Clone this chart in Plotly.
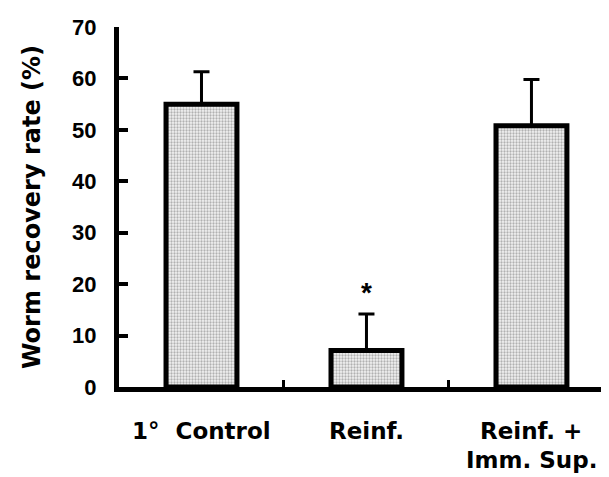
import plotly.graph_objects as go

categories = ["1°\u00a0\u00a0Control", "Reinf.", "Reinf. +\nImm. Sup."]
values = [55.0, 7.1, 50.8]
errors = [6.3, 7.1, 9.0]
significance = ["", "*", ""]
y_ticks = [0, 10, 20, 30, 40, 50, 60, 70]

FONT = "DejaVu Sans, Verdana, sans-serif"
TICKFONT = "Liberation Sans, Arial, Helvetica, sans-serif"
x_idx = list(range(len(categories)))

fig = go.Figure()
fig.add_trace(go.Bar(
    x=x_idx, y=values, width=0.43,
    marker=dict(color="#eeeeee",
                line=dict(color="black", width=5),
                pattern=dict(shape=".", fgcolor="#6f6f6f", bgcolor="#f2f2f2", size=3, solidity=0.45)),
    error_y=dict(type="data", array=errors, arrayminus=[0] * len(errors), symmetric=False,
                 color="black", thickness=3, width=8),
    showlegend=False,
))

annotations = []
for i, cat in enumerate(categories):
    for j, line in enumerate(cat.split("\n")):
        annotations.append(dict(
            x=i, y=0, xref="x", yref="y", text=line, showarrow=False,
            xanchor="center", yanchor="top", yshift=-29 - 28.5 * j,
            font=dict(family=FONT, size=23, color="black", weight="bold")))
    if significance[i]:
        annotations.append(dict(
            x=i, y=values[i] + errors[i], xref="x", yref="y", text=significance[i],
            showarrow=False, xanchor="center", yanchor="bottom", yshift=4,
            font=dict(family=TICKFONT, size=28, color="black", weight="bold")))

# The page body adds an 8px margin, so the figure is sized to fit the 609x477 window.
fig.update_layout(
    width=601, height=469,
    margin=dict(l=111, r=0, t=19, b=90, autoexpand=False),
    paper_bgcolor="white", plot_bgcolor="white",
    font=dict(family=FONT, color="black"),
    xaxis=dict(range=[-0.5, 2.47], tickmode="array", tickvals=[-0.5, 0.5, 1.5, 2.5],
               showticklabels=False, ticks="inside", ticklen=7, tickwidth=3, tickcolor="black",
               showline=True, linewidth=5, linecolor="black", showgrid=False, zeroline=False,
               automargin=False),
    yaxis=dict(range=[0, 70], tickvals=y_ticks, ticks="inside", ticklen=9, tickwidth=4,
               tickcolor="black", showline=True, linewidth=5, linecolor="black",
               showgrid=False, zeroline=False, ticklabelstandoff=13, automargin=False,
               tickfont=dict(family=TICKFONT, size=22, color="black", weight="bold"),
               title=dict(text="Worm recovery rate (%)", standoff=26,
                          font=dict(family=FONT, size=24, color="black", weight="bold"))),
    annotations=annotations,
)

fig.write_html("out.html")
